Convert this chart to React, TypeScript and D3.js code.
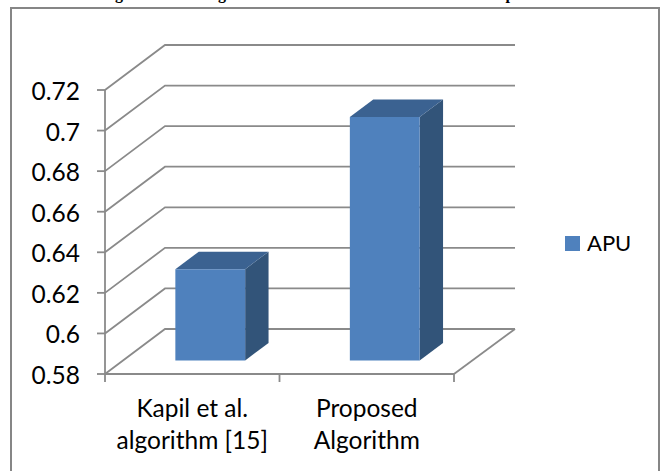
import React from "react";
import * as d3 from "d3";

const categories = [["Kapil et al.", "algorithm [15]"], ["Proposed", "Algorithm"]];
const seriesName = "APU";
const apuValues = [0.625, 0.7];
const tickValues = [0.58, 0.6, 0.62, 0.64, 0.66, 0.68, 0.7, 0.72];
const tickLabels = ["0.58", "0.6", "0.62", "0.64", "0.66", "0.68", "0.7", "0.72"];
// Heading sits above the chart box; only its descenders stay on the page.
const headingGlyphs = [
  { ch: "g", x: 119 },
  { ch: "g", x: 222 },
  { ch: "p", x: 510 },
];

const W = 665;
const H = 471;
const FONT = "Lato, Carlito, 'Open Sans', sans-serif";
const FONT_SIZE = 24.5;
const AXIS = "#8a8a8a";
const AXIS_WIDTH = 1.8;

// Front plane of the box and its receding depth offset.
const left = 105;
const right = 454;
const base = 374;
const top = 90;
const depthX = 60;
const depthY = -45;
// Bars occupy this slice of the box depth.
const barDepthStart = 0.3;
const barDepthEnd = 0.69;

const y = d3.scaleLinear().domain([0.58, 0.72]).range([base, top]);
const x = d3
  .scaleBand<number>()
  .domain(categories.map((_, i) => i))
  .range([left, right])
  .paddingInner(0.6)
  .paddingOuter(0.3);

const project = (px: number, py: number, depth: number): [number, number] => [
  px + depthX * depth,
  py + depthY * depth,
];
const poly = (pts: [number, number][]) => d3.line()(pts) + "Z";

function Bar({ index, value }: { index: number; value: number }) {
  const x0 = x(index)!;
  const x1 = x0 + x.bandwidth();
  const yTop = y(value);
  const yBase = y(0.58);
  const a = barDepthStart;
  const b = barDepthEnd;
  const front = [project(x0, yTop, a), project(x1, yTop, a), project(x1, yBase, a), project(x0, yBase, a)];
  const lid = [project(x0, yTop, a), project(x0, yTop, b), project(x1, yTop, b), project(x1, yTop, a)];
  const side = [project(x1, yTop, a), project(x1, yTop, b), project(x1, yBase, b), project(x1, yBase, a)];
  return (
    <g>
      <path d={poly(side)} fill="#325479" />
      <path d={poly(lid)} fill="#3b6291" />
      <path d={poly(front)} fill="#4f81bd" />
    </g>
  );
}

export default function App() {
  const backX0 = left + depthX;
  const backX1 = right + depthX + 1;
  return (
    <svg
      width={W}
      height={H}
      viewBox={`0 0 ${W} ${H}`}
      style={{ position: "absolute", left: 0, top: 0, background: "#fff" }}
    >
      {headingGlyphs.map((g, i) => (
        <text
          key={i}
          x={g.x}
          y={-1}
          textAnchor="middle"
          fontFamily="'Liberation Serif', serif"
          fontWeight="bold"
          fontSize={16}
          fill="#000"
        >
          {g.ch}
        </text>
      ))}

      <rect x={11} y={8} width={648} height={480} fill="#fff" stroke="#868686" strokeWidth={2} />

      {/* side wall diagonals and back wall gridlines */}
      {tickValues.map((t) => {
        const yy = y(t);
        return (
          <path
            key={t}
            d={d3.line()([[left, yy], [backX0, yy + depthY], [backX1, yy + depthY]])!}
            fill="none"
            stroke={AXIS}
            strokeWidth={AXIS_WIDTH}
          />
        );
      })}
      {/* floor edge on the right */}
      <path
        d={d3.line()([[right, base], [backX1, base + depthY]])!}
        fill="none"
        stroke={AXIS}
        strokeWidth={AXIS_WIDTH}
      />

      {/* value axis */}
      <line x1={left} x2={left} y1={top} y2={base} stroke={AXIS} strokeWidth={AXIS_WIDTH} />
      {tickValues.map((t, i) => (
        <g key={t}>
          <line x1={left - 8} x2={left} y1={y(t)} y2={y(t)} stroke={AXIS} strokeWidth={AXIS_WIDTH} />
          <text
            x={80}
            y={y(t) + 10}
            textAnchor="end"
            fontFamily={FONT}
            fontSize={FONT_SIZE}
            fill="#000"
          >
            {tickLabels[i]}
          </text>
        </g>
      ))}

      {/* category axis */}
      <line x1={left} x2={right} y1={base} y2={base} stroke={AXIS} strokeWidth={AXIS_WIDTH} />
      {[0, 1, 2].map((i) => {
        const xx = left + ((right - left) * i) / 2;
        return <line key={i} x1={xx} x2={xx} y1={base} y2={base + 8} stroke={AXIS} strokeWidth={AXIS_WIDTH} />;
      })}
      {categories.map((lines, i) => (
        <text
          key={i}
          x={x(i)! + x.bandwidth() / 2}
          textAnchor="middle"
          fontFamily={FONT}
          fontSize={FONT_SIZE}
          fill="#000"
        >
          {lines.map((l, j) => (
            <tspan key={j} x={x(i)! + x.bandwidth() / 2} y={417 + j * 32}>
              {l}
            </tspan>
          ))}
        </text>
      ))}

      {apuValues.map((v, i) => (
        <Bar key={i} index={i} value={v} />
      ))}

      {/* legend */}
      <rect x={565} y={236} width={15} height={15} fill="#4f81bd" />
      <text x={587} y={251} fontFamily={FONT} fontSize={22} fill="#000">
        {seriesName}
      </text>
    </svg>
  );
}
